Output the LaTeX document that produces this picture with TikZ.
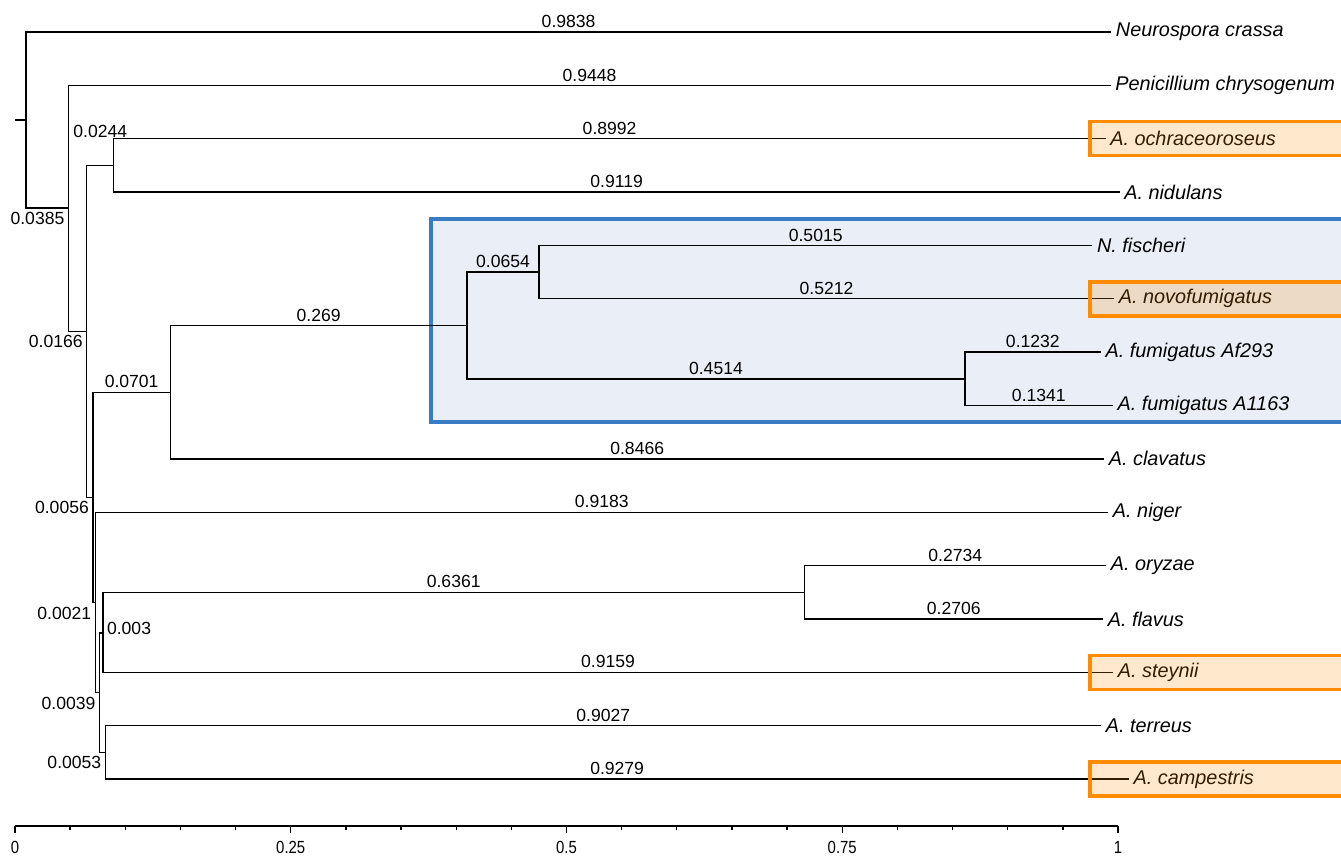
\documentclass[tikz,border=0pt]{standalone}
\usepackage{fontspec}
\setmainfont{Liberation Sans}
\newfontfamily\escala[FakeStretch=0.85]{Liberation Sans}
\usetikzlibrary{positioning}
\definecolor{marca}{HTML}{FF8C00}
\definecolor{clado}{HTML}{3A7CC3}
\definecolor{cladofondo}{HTML}{E9EEF7}

\begin{document}
\begin{tikzpicture}[x=0.02cm,y=-0.02cm,
      rama/.style={draw=black,line width=0.75pt},
      num/.style={font=\fontsize{10}{12}\selectfont,inner sep=2pt},
      lng/.style={num,pos=0.75,above},
      izq/.style={num,pos=1,anchor=north east},
      hoja/.style={anchor=west,inner xsep=2.5pt,inner ysep=0pt,
                   font=\fontsize{11.3}{13}\selectfont\itshape},
      resalte/.style={draw=marca,line width=2pt,fill=marca,
                      fill opacity=0.2,draw opacity=1},
      grupo/.style={draw=clado,line width=1.8pt,fill=cladofondo},
      eje/.style={font=\escala\fontsize{10}{12}\selectfont,inner sep=0pt}]
    \clip (0,0) rectangle (1341,857);
    \draw[grupo] (431,219) rectangle (1360,422);
    % internal nodes
    \coordinate (raiz) at (15,120);
    \coordinate (R) at (26,120);
    \coordinate (A) at (68.5,208);
    \coordinate (B) at (86.8,331.5);
    \coordinate (C) at (113.7,165.4);
    \coordinate (D) at (93,497.5);
    \coordinate (E) at (170.3,392.3);
    \coordinate (G) at (467,325.5);
    \coordinate (H) at (539.1,272.1);
    \coordinate (I) at (964.9,378.9);
    \coordinate (F) at (95.3,602.6);
    \coordinate (J) at (99.6,692.8);
    \coordinate (K) at (102.9,633.1);
    \coordinate (M) at (804.5,592.3);
    \coordinate (L) at (105.4,752.4);
    % tips
    \foreach \nm/\xe/\i/\txt in {neu/1111.2/0/Neurospora crassa,
        pen/1110.6/1/Penicillium chrysogenum,och/1105.5/2/A. ochraceoroseus,
        nid/1119.5/3/A. nidulans,fis/1092.3/4/N. fischeri,
        nov/1114/5/A. novofumigatus,afa/1100.8/6/A. fumigatus Af293,
        afb/1112.8/7/A. fumigatus A1163,cla/1104.1/8/A. clavatus,
        nig/1108.2/9/A. niger,ory/1106.1/10/A. oryzae,fla/1103/11/A. flavus,
        ste/1113.2/12/A. steynii,ter/1101.1/13/A. terreus,
        cam/1128.9/14/A. campestris}
      \node[hoja] (\nm) at (\xe,{32+53.36*\i}) {\txt};
    % branches
    \draw[rama] (raiz) -- (R);
    \draw[rama] (R) |- (neu.west) node[lng] {0.9838};
    \draw[rama] (R) |- (A) node[izq] {0.0385};
    \draw[rama] (A) |- (pen.west) node[lng] {0.9448};
    \draw[rama] (A) |- (B) node[izq] {0.0166};
    \draw[rama] (B) |- (C) node[lng,yshift=0.48cm] {0.0244};
    \draw[rama] (C) |- (och.west) node[lng] {0.8992};
    \draw[rama] (C) |- (nid.west) node[lng] {0.9119};
    \draw[rama] (B) |- (D) node[izq] {0.0056};
    \draw[rama] (D) |- (E) node[lng] {0.0701};
    \draw[rama] (E) |- (G) node[lng] {0.269};
    \draw[rama] (E) |- (cla.west) node[lng] {0.8466};
    \draw[rama] (G) |- (H) node[lng] {0.0654};
    \draw[rama] (H) |- (fis.west) node[lng] {0.5015};
    \draw[rama] (H) |- (nov.west) node[lng] {0.5212};
    \draw[rama] (G) |- (I) node[lng] {0.4514};
    \draw[rama] (I) |- (afa.west) node[lng] {0.1232};
    \draw[rama] (I) |- (afb.west) node[lng] {0.1341};
    \draw[rama] (D) |- (F) node[izq] {0.0021};
    \draw[rama] (F) |- (nig.west) node[lng] {0.9183};
    \draw[rama] (F) |- (J) node[izq] {0.0039};
    \draw[rama] (J) |- (K) node[num,pos=1,anchor=west,yshift=0.1cm] {0.003};
    \draw[rama] (K) |- (M) node[lng] {0.6361};
    \draw[rama] (M) |- (ory.west) node[lng] {0.2734};
    \draw[rama] (M) |- (fla.west) node[lng] {0.2706};
    \draw[rama] (K) |- (ste.west) node[lng] {0.9159};
    \draw[rama] (J) |- (L) node[izq] {0.0053};
    \draw[rama] (L) |- (ter.west) node[lng] {0.9027};
    \draw[rama] (L) |- (cam.west) node[lng] {0.9279};
    % highlighted taxa
    \foreach \y in {138.7,298.8,672.3,779}
      \draw[resalte] (1090,\y-17) rectangle (1360,\y+17);
    % scale
    \coordinate (ax0) at (15,826);
    \coordinate (ax1) at (1118,826);
    \draw[rama] (ax0) -- (ax1);
    \foreach \i in {0,...,20} \draw[rama] ({15+55.15*\i},826) -- ++(0,3.5);
    \foreach \v/\txt [count=\k] in {0/0,0.25/0.25,0.5/0.5,0.75/0.75,1/1} {
      \draw[rama] ({15+1103*\v},826) -- ++(0,7);
      \node[eje] (e\k) at ({15+1103*\v},847) {\txt};
    }
\end{tikzpicture}
\end{document}
